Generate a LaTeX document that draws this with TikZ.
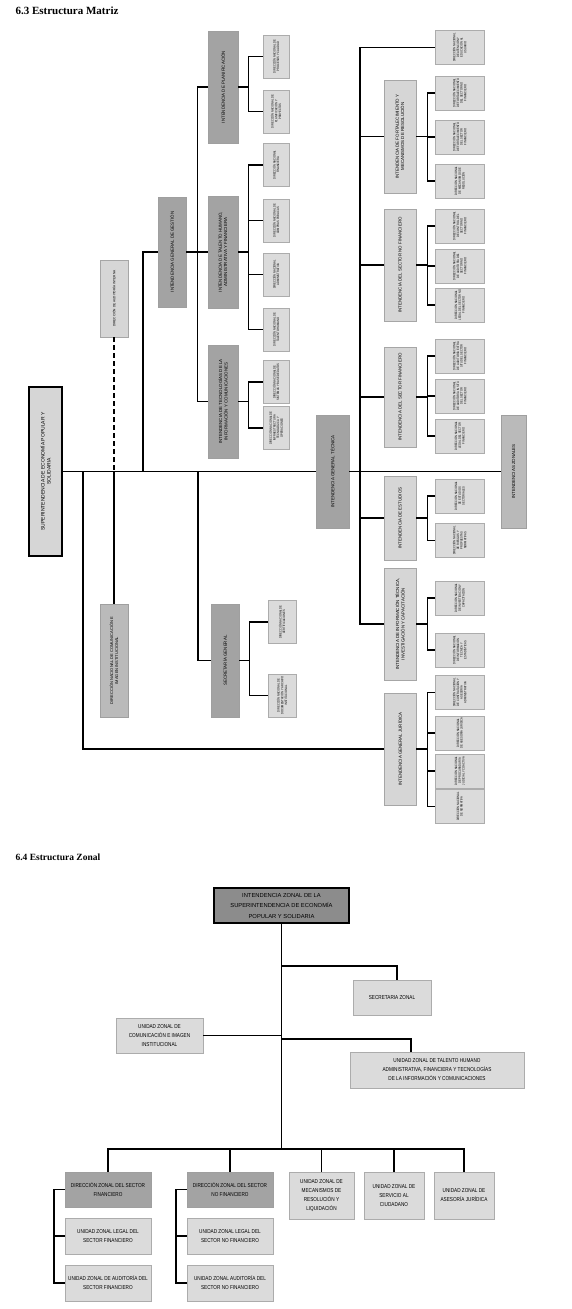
\documentclass[tikz,border=0pt]{standalone}
\usepackage{fontspec}
\setmainfont{Liberation Sans}
\newfontfamily\headfont{Liberation Serif}
\newfontfamily\narrowfont[FakeStretch=0.82]{Liberation Sans}
\usepackage{graphicx}
\usetikzlibrary{calc}
\usetikzlibrary{positioning}
\definecolor{darkfill}{gray}{0.64}
\definecolor{midfill}{gray}{0.73}
\definecolor{lightfill}{gray}{0.84}
\definecolor{leaffill}{gray}{0.86}
\definecolor{headfill}{gray}{0.55}
\newcommand{\rotlbl}[2]{\rotatebox{90}{\parbox{#1pt}{\centering\hyphenpenalty=10000\exhyphenpenalty=10000 #2}}}
\newcommand{\midsize}{\fontsize{4.4}{5.4}\selectfont}
\newcommand{\leafsize}{\narrowfont\fontsize{3.2}{3.7}\selectfont}
\newcommand{\zonesize}{\narrowfont\fontsize{5.7}{9}\selectfont}
\tikzstyle{rootbox} = [draw=black, line width=1.2pt, fill=lightfill, inner sep=0pt, font=\fontsize{5}{6}\selectfont]
\tikzstyle{darkbox} = [draw=gray!75, line width=0.6pt, fill=darkfill, inner sep=0pt, font=\midsize]
\tikzstyle{midbox} = [draw=gray!75, line width=0.6pt, fill=midfill, inner sep=0pt, font=\midsize]
\tikzstyle{lightbox} = [draw=gray!70, line width=0.6pt, fill=lightfill, inner sep=0pt, font=\midsize]
\tikzstyle{leafbox} = [draw=gray!65, line width=0.5pt, fill=leaffill, inner sep=0pt, font=\leafsize]
\tikzstyle{link} = [draw=black, line width=1.2pt]
\tikzstyle{zonehead} = [draw=black, line width=1.5pt, fill=headfill, inner sep=0pt, align=center, font=\fontsize{5.8}{10.5}\selectfont]
\tikzstyle{zonedir} = [draw=gray!75, line width=0.6pt, fill=darkfill, inner sep=0pt, align=center, font=\zonesize]
\tikzstyle{zonebox} = [draw=gray!65, line width=0.6pt, fill=leaffill, inner sep=0pt, align=center, font=\zonesize]
\tikzstyle{zlink} = [draw=black, line width=1.7pt]

\begin{document}
\begin{tikzpicture}[x=1pt, y=-1pt]
\useasboundingbox (0,0) rectangle (572,1309);

% 6.3 estructura matriz
\node[anchor=west, font=\headfont\bfseries\fontsize{11}{12}\selectfont] (tmatriz) at (12,11) {6.3 Estructura Matriz};

\node[rootbox, minimum width=33, minimum height=169] (root) at (45.5,471.5) {\rotlbl{150}{SUPERINTENDENCIA DE ECONOMÍA POPULAR Y\\SOLIDARIA}};
\node[lightbox, font=\fontsize{3.2}{3.8}\selectfont, minimum width=28, minimum height=77] (audit) at (114,298.5) {\rotlbl{72}{DIRECCIÓN DE AUDITORÍA INTERNA}};
\node[midbox, font=\fontsize{4}{5}\selectfont, minimum width=28, minimum height=113] (comm) at (114,660.5) {\rotlbl{106}{DIRECCIÓN NACIONAL DE COMUNICACIÓN E\\IMAGEN INSTITUCIONAL}};
\node[darkbox, minimum width=28, minimum height=110] (gestion) at (172,252) {\rotlbl{102}{INTENDENCIA GENERAL DE GESTIÓN}};
\node[darkbox, minimum width=30, minimum height=112] (plan) at (223,87) {\rotlbl{104}{INTENDENCIA DE PLANIFICACIÓN}};
\node[darkbox, minimum width=30, minimum height=112] (talento) at (223,252) {\rotlbl{104}{INTENDENCIA DE TALENTO HUMANO,\\ADMINISTRATIVA Y FINANCIERA}};
\node[darkbox, minimum width=30, minimum height=113] (tecno) at (223,401.5) {\rotlbl{105}{INTENDENCIA DE TECNOLOGÍAS DE LA\\INFORMACIÓN Y COMUNICACIONES}};
\node[darkbox, minimum width=28, minimum height=113] (secgen) at (225,660.5) {\rotlbl{105}{SECRETARÍA GENERAL}};
\node[darkbox, minimum width=33, minimum height=113] (tecnica) at (332.5,471.5) {\rotlbl{105}{INTENDENCIA GENERAL TÉCNICA}};
\node[midbox, minimum width=25, minimum height=113] (zonales) at (513.5,471.5) {\rotlbl{105}{INTENDENCIAS ZONALES}};

\node[lightbox, minimum width=32, minimum height=113] (fort) at (400,136.5) {\rotlbl{105}{INTENDENCIA DE FORTALECIMIENTO Y\\MECANISMOS DE RESOLUCIÓN}};
\node[lightbox, minimum width=32, minimum height=112] (nofin) at (400,265) {\rotlbl{104}{INTENDENCIA DEL SECTOR NO FINANCIERO}};
\node[lightbox, minimum width=32, minimum height=100] (fin) at (400,397) {\rotlbl{94}{INTENDENCIA DEL SECTOR FINANCIERO}};
\node[lightbox, minimum width=32, minimum height=84] (estud) at (400,518) {\rotlbl{78}{INTENDENCIA DE ESTUDIOS}};
\node[lightbox, minimum width=32, minimum height=112] (infotec) at (400,624) {\rotlbl{104}{INTENDENCIA DE INFORMACIÓN TÉCNICA,\\INVESTIGACIÓN Y CAPACITACIÓN}};
\node[lightbox, minimum width=32, minimum height=112] (jurid) at (400,749) {\rotlbl{104}{INTENDENCIA GENERAL JURÍDICA}};

% direcciones nacionales
\foreach \n/\y/\t in {pl1/56.5/{DIRECCIÓN NACIONAL DE PROCESOS Y CALIDAD}, pl2/111.5/{DIRECCIÓN NACIONAL DE PLANIFICACIÓN Y PROYECTOS},
    ta1/165/{DIRECCIÓN NACIONAL FINANCIERA}, ta2/220.5/{DIRECCIÓN NACIONAL DE COMPRAS PÚBLICAS},
    ta3/274.5/{DIRECCIÓN NACIONAL ADMINISTRATIVA}, ta4/329.5/{DIRECCIÓN NACIONAL DE TALENTO HUMANO},
    te1/382/{DIRECCIÓN NACIONAL DE SISTEMAS Y BASE DE DATOS}, te2/428/{DIRECCIÓN NACIONAL DE INFRAESTRUCTURA TECNOLÓGICA Y OPERACIONES}}
  \node[leafbox, minimum width=26, minimum height=43] (\n) at (276,\y) {\rotlbl{39}{\t}};
\foreach \n/\y/\t in {sg1/622/{DIRECCIÓN NACIONAL DE CERTIFICACIONES}, sg2/695.5/{DIRECCIÓN NACIONAL DE DOCUMENTACIÓN Y ARCHIVO INSTITUCIONAL}}
  \node[leafbox, minimum width=28, minimum height=43] (\n) at (282,\y) {\rotlbl{39}{\t}};
\foreach \n/\y/\t in {rtop/47.5/{DIRECCIÓN NACIONAL DE ATENCIÓN Y EDUCACIÓN AL USUARIO},
    fo1/93/{DIRECCIÓN NACIONAL DE FORTALECIMIENTO DEL SECTOR NO FINANCIERO}, fo2/137/{DIRECCIÓN NACIONAL DE FORTALECIMIENTO DEL SECTOR FINANCIERO}, fo3/181/{DIRECCIÓN NACIONAL DE MECANISMOS DE RESOLUCIÓN},
    nf1/226/{DIRECCIÓN NACIONAL DE CONTROL DEL SECTOR NO FINANCIERO}, nf2/266/{DIRECCIÓN NACIONAL DE AUDITORÍA DEL SECTOR NO FINANCIERO}, nf3/305/{DIRECCIÓN NACIONAL LEGAL DEL SECTOR NO FINANCIERO},
    fi1/356/{DIRECCIÓN NACIONAL DE AUDITORÍA EXTRA SITU DEL SECTOR FINANCIERO}, fi2/396/{DIRECCIÓN NACIONAL DE AUDITORÍA IN SITU DEL SECTOR FINANCIERO}, fi3/436/{DIRECCIÓN NACIONAL LEGAL DEL SECTOR FINANCIERO},
    es1/496/{DIRECCIÓN NACIONAL DE ESTUDIOS SECTORIALES}, es2/540.5/{DIRECCIÓN NACIONAL DE RIESGOS Y PROPUESTAS NORMATIVAS},
    it1/598/{DIRECCIÓN NACIONAL DE INVESTIGACIÓN Y CAPACITACIÓN}, it2/650/{DIRECCIÓN NACIONAL DE INFORMACIÓN TÉCNICA Y ESTADÍSTICAS},
    ju1/692.5/{DIRECCIÓN NACIONAL DE CONTRATACIÓN Y ASESORÍA ADMINISTRATIVA}, ju2/733/{DIRECCIÓN NACIONAL DE ASESORÍA JURÍDICA},
    ju3/771/{DIRECCIÓN NACIONAL DE PROCURADURÍA JUDICIAL Y COACTIVA}, ju4/806.5/{DIRECCIÓN NACIONAL DE NORMATIVA}}
  \node[leafbox, minimum width=49, minimum height=34] (\n) at (459.5,\y) {\rotlbl{31}{\t}};

% lineas
\coordinate (jcom) at (83,471.5);
\coordinate (jaud) at (114,471.5);
\coordinate (jges) at (143,471.5);
\coordinate (jsec) at (198,471.5);
\coordinate (jtec) at (360,471.5);
\draw[link] (root.east) -- (tecnica.west);
\draw[link] (tecnica.east) -- (zonales.west);
\draw[link] (jcom) |- (jurid.west);
\draw[link, dash pattern=on 5pt off 3pt] (audit.south) -- (jaud);
\draw[link] (jaud) -- (comm.north);
\draw[link] (jges) |- (gestion.west);
\draw[link] (jsec) |- (secgen.west);
\draw[link] (gestion.east) -- (talento.west);
\draw[link] (plan.west) -| ($(gestion.east)+(11,0)$) |- (tecno.west);
\draw[link] (rtop.west) -| (jtec) |- (infotec.west);
\foreach \n in {fort,nofin,fin,estud}
  \draw[link] (\n.west) -- (\n.west -| jtec);
\foreach \p/\a/\b in {plan/pl1/pl2, talento/ta1/ta4, tecno/te1/te2, secgen/sg1/sg2}
  \draw[link] (\a.west) -| ($(\p.east)+(10,0)$) |- (\b.west) (\p.east) -- ++(10,0);
\foreach \p/\a/\b in {fort/fo1/fo3, nofin/nf1/nf3, fin/fi1/fi3, estud/es1/es2, infotec/it1/it2, jurid/ju1/ju4}
  \draw[link] (\a.west) -| ($(\p.east)+(11,0)$) |- (\b.west) (\p.east) -- ++(11,0);
\foreach \m in {ta2,ta3}
  \draw[link] (\m.west) -- ++(-15,0);
\foreach \m in {fo2,nf2,fi2,ju2,ju3}
  \draw[link] (\m.west) -- ++(-8,0);

% 6.4 estructura zonal
\node[anchor=west, font=\headfont\bfseries\fontsize{9.5}{11}\selectfont] (tzonal) at (12,857) {6.4 Estructura Zonal};

\node[zonehead, minimum width=135, minimum height=35] (zhead) at (281.5,905.5) {INTENDENCIA ZONAL DE LA\\SUPERINTENDENCIA DE ECONOMÍA\\POPULAR Y SOLIDARIA};
\node[zonebox, minimum width=78, minimum height=35] (zsec) at (392,997.5) {SECRETARIA ZONAL};
\node[zonebox, minimum width=87, minimum height=35] (zcom) at (159.5,1035.5) {UNIDAD ZONAL DE\\COMUNICACIÓN E IMAGEN\\INSTITUCIONAL};
\node[zonebox, minimum width=174, minimum height=36] (zth) at (437,1070) {UNIDAD ZONAL DE TALENTO HUMANO\\ADMINISTRATIVA, FINANCIERA Y TECNOLOGÍAS\\DE LA INFORMACIÓN Y COMUNICACIONES};
\node[zonedir, minimum width=86, minimum height=35] (zdf) at (108,1189.5) {DIRECCIÓN ZONAL DEL SECTOR\\FINANCIERO};
\node[zonebox, minimum width=86, minimum height=36] (zlf) at (108,1236) {UNIDAD ZONAL LEGAL DEL\\SECTOR FINANCIERO};
\node[zonebox, minimum width=86, minimum height=36] (zaf) at (108,1283) {UNIDAD ZONAL DE AUDITORÍA DEL\\SECTOR FINANCIERO};
\node[zonedir, minimum width=86, minimum height=35] (zdnf) at (230,1189.5) {DIRECCIÓN ZONAL DEL SECTOR\\NO FINANCIERO};
\node[zonebox, minimum width=86, minimum height=36] (zlnf) at (230,1236) {UNIDAD ZONAL LEGAL DEL\\SECTOR NO FINANCIERO};
\node[zonebox, minimum width=86, minimum height=36] (zanf) at (230,1283) {UNIDAD ZONAL AUDITORÍA DEL\\SECTOR NO FINANCIERO};
\node[zonebox, minimum width=65, minimum height=47] (zmec) at (321.5,1195.5) {UNIDAD ZONAL DE\\MECANISMOS DE\\RESOLUCIÓN Y\\LIQUIDACIÓN};
\node[zonebox, minimum width=60, minimum height=47] (zsc) at (394,1195.5) {UNIDAD ZONAL DE\\SERVICIO AL\\CIUDADANO};
\node[zonebox, minimum width=60, minimum height=47] (zaj) at (464,1195.5) {UNIDAD ZONAL DE\\ASESORÍA JURÍDICA};

\coordinate (zbus) at (281.5,1149);
\coordinate (zsecj) at (281.5,966);
\coordinate (zthj) at (281.5,1039);
\draw[zlink] (zhead.south) -- (zbus);
\draw[zlink] (zsecj) -| ($(zsec.north)+(5,0)$);
\draw[zlink] (zcom.east) -- (zcom.east -| zhead.south);
\draw[zlink] (zthj) -| ($(zth.north)+(-26,0)$);
\draw[zlink] (zdf.north) |- (zbus) -| (zaj.north);
\foreach \n in {zdnf,zmec,zsc}
  \draw[zlink] (\n.north) -- (\n.north |- zbus);
\foreach \a/\b/\c in {zdf/zlf/zaf, zdnf/zlnf/zanf}
  \draw[zlink] (\a.west) -- ++(-11,0) |- (\c.west) (\b.west) -- ++(-11,0);
\end{tikzpicture}
\end{document}
